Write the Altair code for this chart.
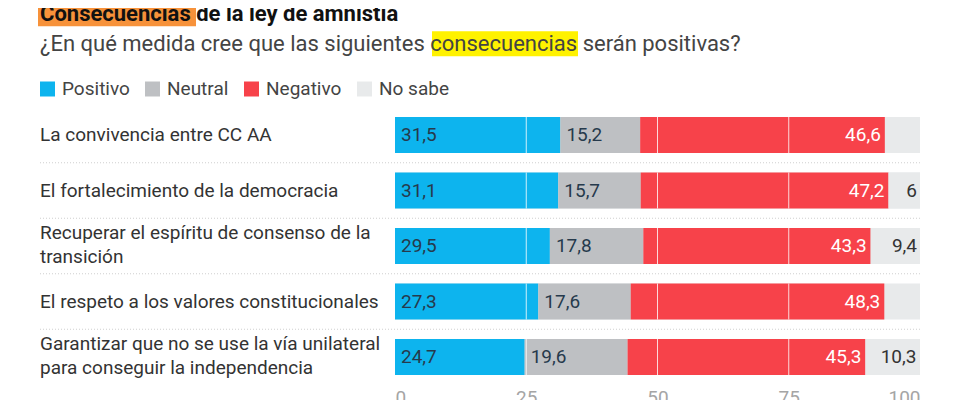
import altair as alt
import pandas as pd

categories = [
    "La convivencia entre CC AA",
    "El fortalecimiento de la democracia",
    "Recuperar el espíritu de consenso de la\ntransición",
    "El respeto a los valores constitucionales",
    "Garantizar que no se use la vía unilateral\npara conseguir la independencia",
]
series = ["Positivo", "Neutral", "Negativo", "No sabe"]
positivo = [31.5, 31.1, 29.5, 27.3, 24.7]
neutral = [15.2, 15.7, 17.8, 17.6, 19.6]
negativo = [46.6, 47.2, 43.3, 48.3, 45.3]
no_sabe = [None, 6, 9.4, None, 10.3]
x_ticks = [0, 25, 50, 75, 100]
grid_lines = [25, 50, 75]
colors = ["#0db4ee", "#bec0c3", "#f7424a", "#e8eaeb"]

title_text = "Consecuencias de la ley de amnistía"
subtitle_text = "¿En qué medida cree que las siguientes consecuencias serán positivas?"

FONT = "Roboto"

rows = []
for i, cat in enumerate(categories):
    for j, (s, vals) in enumerate(zip(series, [positivo, neutral, negativo, no_sabe])):
        v = vals[i]
        if v is None:
            continue
        rows.append({"cat": cat, "serie": s, "value": v, "ord": j,
                     "label": f"{v:g}".replace(".", ",")})
df = pd.DataFrame(rows)

W, H = 525, 277.5
y_scale = alt.Scale(domain=categories, paddingInner=0.35, paddingOuter=0.175)
x_scale = alt.Scale(domain=[0, 100], nice=False)

base = alt.Chart(df).transform_stack(
    stack="value", groupby=["cat"], as_=["x0", "x1"],
    sort=[alt.SortField("ord", order="ascending")],
)

y_enc = alt.Y("cat:N", scale=y_scale, axis=None, sort=categories)

track = alt.Chart(pd.DataFrame({"cat": categories})).mark_bar(color=colors[3]).encode(
    y=y_enc,
    x=alt.X("start:Q", scale=x_scale,
            axis=alt.Axis(values=x_ticks, title=None, grid=False, domain=False, ticks=False,
                          labelFontSize=19, labelColor="#a5a5a5", labelFont=FONT,
                          labelPadding=4, labelFlush=True)),
    x2="end:Q",
).transform_calculate(start="0", end="100")

bars = base.mark_bar().encode(
    y=y_enc,
    x=alt.X("x0:Q", scale=x_scale),
    x2="x1:Q",
    color=alt.Color("serie:N", scale=alt.Scale(domain=series, range=colors),
                    legend=alt.Legend(orient="none", legendX=-357, legendY=-28,
                                      direction="horizontal", title=None,
                                      symbolType="square", symbolSize=225,
                                      symbolStrokeWidth=0, symbolOpacity=1,
                                      labelFontSize=19, labelColor="#444",
                                      labelFont=FONT, labelOffset=5,
                                      columnPadding=13)),
)

grid = alt.Chart(pd.DataFrame([{"cat": c, "g": g} for c in categories for g in grid_lines])).mark_tick(
    color="white", thickness=1, size=36, opacity=0.8
).encode(y=y_enc, x=alt.X("g:Q", scale=x_scale))

lab_left = base.transform_filter("datum.ord <= 1").mark_text(
    align="left", baseline="middle", dx=6, fontSize=19, font=FONT, color="#263a4c"
).encode(y=y_enc, x=alt.X("x0:Q", scale=x_scale), text="label:N")

lab_neg = base.transform_filter("datum.ord == 2").mark_text(
    align="right", baseline="middle", dx=-4, fontSize=19, font=FONT, color="white"
).encode(y=y_enc, x=alt.X("x1:Q", scale=x_scale), text="label:N")

lab_ns = base.transform_filter("datum.ord == 3").mark_text(
    align="right", baseline="middle", dx=-3, fontSize=19, font=FONT, color="#333"
).encode(y=y_enc, x=alt.X("x1:Q", scale=x_scale), text="label:N")

seps = alt.Chart(pd.DataFrame({"cat": categories[:-1]})).mark_rule(
    color="#cfcfcf", strokeDash=[1, 2], strokeWidth=1, yOffset=27.75
).encode(y=y_enc, x=alt.value(-355), x2=alt.value(W))

single = [c for c in categories if "\n" not in c]
multi = [c for c in categories if "\n" in c]
row_labels_1 = alt.Chart(pd.DataFrame({"cat": single})).mark_text(
    align="left", baseline="middle", fontSize=19, font=FONT, color="#333"
).encode(y=y_enc, x=alt.value(-355), text="cat:N")
row_labels_2 = alt.Chart(pd.DataFrame({"cat": multi})).mark_text(
    align="left", baseline="middle", lineBreak="\n", lineHeight=24, dy=-13,
    fontSize=19, font=FONT, color="#333"
).encode(y=y_enc, x=alt.value(-355), text="cat:N")

one = pd.DataFrame({"a": [1]})
hl_title = alt.Chart(one).mark_rect(color="#f7923a").encode(
    x=alt.value(-357), x2=alt.value(-199), y=alt.value(-115), y2=alt.value(-81))
hl_sub = alt.Chart(one).mark_rect(color="#fff200").encode(
    x=alt.value(37), x2=alt.value(183), y=alt.value(-76), y2=alt.value(-51))
title = alt.Chart(pd.DataFrame({"t": [title_text]})).mark_text(
    align="left", baseline="alphabetic", fontSize=22, fontWeight="bold", font=FONT, color="#111"
).encode(x=alt.value(-355), y=alt.value(-86), text="t:N")
subtitle = alt.Chart(pd.DataFrame({"t": [subtitle_text]})).mark_text(
    align="left", baseline="alphabetic", fontSize=22, font=FONT, color="#444"
).encode(x=alt.value(-355), y=alt.value(-56), text="t:N")

chart = alt.layer(
    hl_title, hl_sub, title, subtitle,
    seps, row_labels_1, row_labels_2, track, bars, grid, lab_left, lab_neg, lab_ns,
).properties(
    width=W, height=H,
    autosize=alt.AutoSizeParams(type="none"),
    padding={"left": 387, "top": 99.25, "right": 50, "bottom": 30},
).configure_view(stroke=None)

chart.save("out.html", embed_options={"renderer": "svg", "actions": False})
